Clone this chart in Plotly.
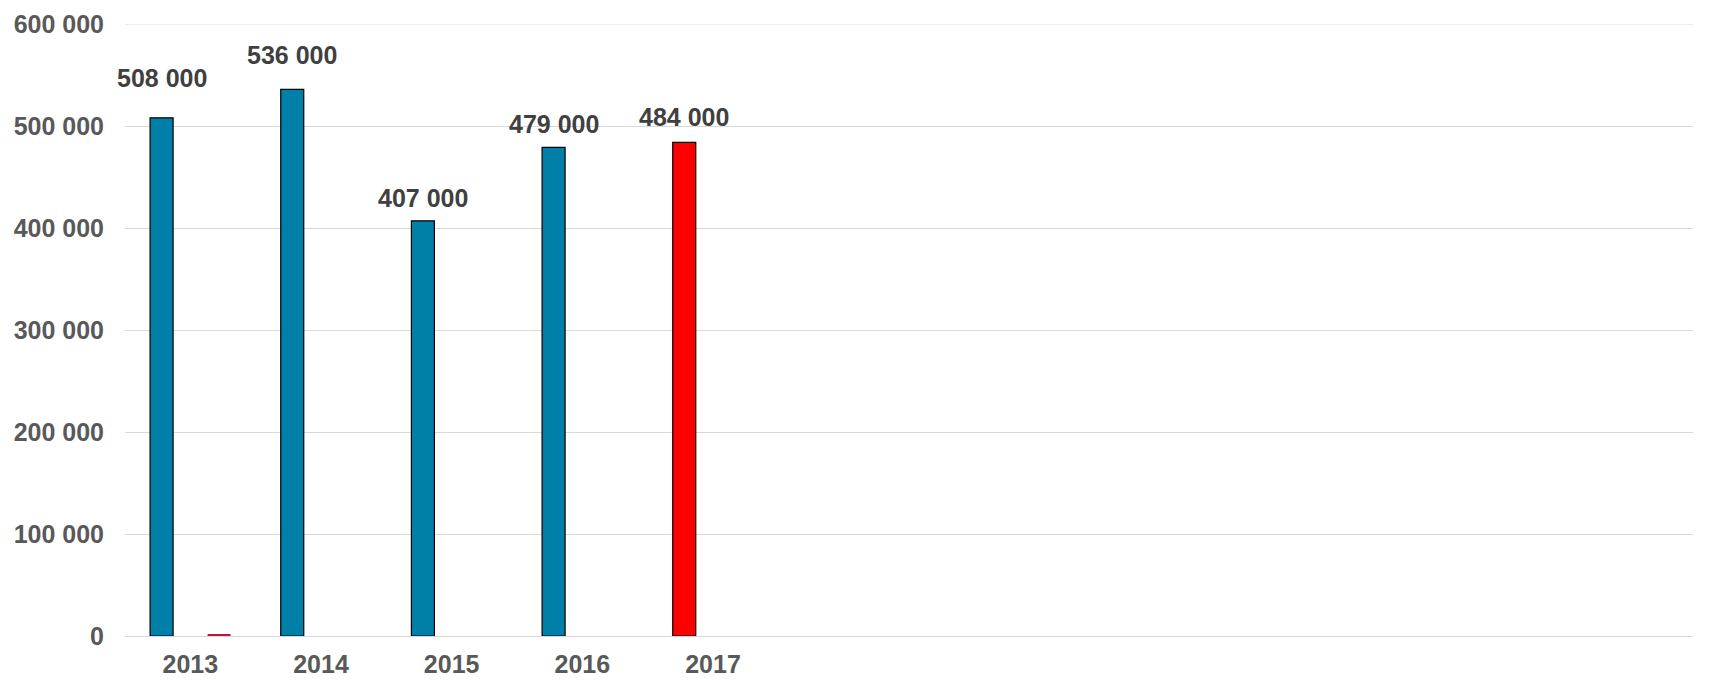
import plotly.graph_objects as go

years = ["2013", "2014", "2015", "2016", "2017"]
values = [508000, 536000, 407000, 479000, 484000]
second_values = [1200, None, None, None, None]
n_slots = 12
y_ticks = [0, 100000, 200000, 300000, 400000, 500000, 600000]

bar_colors = ["#0080A8"] * 4 + ["#FF0000"]
label_shift = [40, 34, 23, 23, 25]

xs = list(range(len(years)))

fig = go.Figure()
fig.add_trace(go.Bar(x=xs, y=values, marker=dict(color=bar_colors, line=dict(color="#000000", width=1.2)),
                     showlegend=False, hoverinfo="skip"))
fig.add_trace(go.Bar(x=xs, y=second_values, marker=dict(color="#C0143C", line=dict(width=0)),
                     showlegend=False, hoverinfo="skip"))

slot_offset = 0.88 / 4
for i, v in enumerate(values):
    fig.add_annotation(x=xs[i] - slot_offset, y=v, text=f"{v:,}".replace(",", " "),
                       showarrow=False, yanchor="middle", xanchor="center", yshift=label_shift[i],
                       font=dict(family="Liberation Sans, Arial", size=25, color="#404040", weight="bold"))

# top gridline (plotly omits the gridline at the range edge)
fig.add_shape(type="line", xref="paper", yref="y", x0=0, x1=1, y0=y_ticks[-1], y1=y_ticks[-1],
              line=dict(color="#D9D9D9", width=1), layer="below")

fig.update_layout(
    width=1699, height=677,
    margin=dict(l=117, r=14, t=16, b=49, autoexpand=False),
    paper_bgcolor="white", plot_bgcolor="white",
    barmode="group", bargap=0.12, bargroupgap=0.6,
    font=dict(family="Liberation Sans, Arial", size=25, color="#595959", weight="bold"),
    xaxis=dict(range=[-0.5, n_slots - 0.5], tickvals=xs, ticktext=years, showgrid=False,
               zeroline=False, showline=False, ticks="", ticklabelstandoff=11, automargin=False,
               tickfont=dict(size=25, color="#595959", weight="bold")),
    yaxis=dict(range=[0, 600000], tickvals=y_ticks, ticktext=[f"{t:,}".replace(",", " ") for t in y_ticks],
               showgrid=True, gridcolor="#D9D9D9", gridwidth=1, zeroline=True, zerolinecolor="#D9D9D9",
               zerolinewidth=1, showline=False, ticks="", ticklabelstandoff=20, automargin=False,
               tickfont=dict(size=25, color="#595959", weight="bold")),
)

fig.write_html("out.html")
